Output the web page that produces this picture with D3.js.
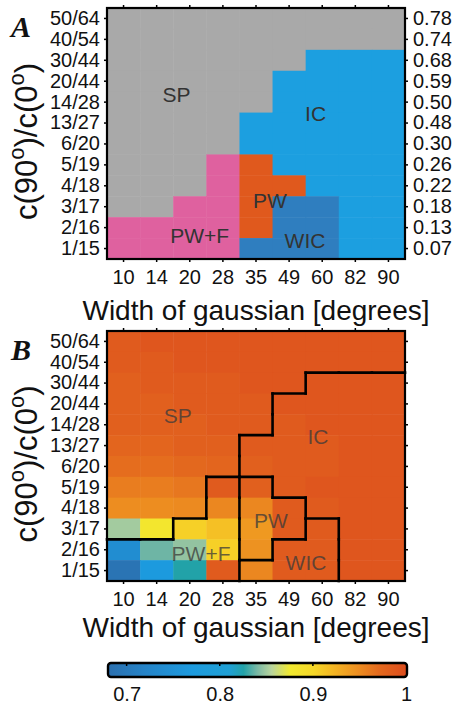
<!DOCTYPE html>
<html>
<head>
<meta charset="utf-8">
<script src="https://cdn.jsdelivr.net/npm/d3@7/dist/d3.min.js"></script>
<style>
body { margin: 0; background: #fff; }
text { font-family: "Liberation Sans", Arial, sans-serif; }
</style>
</head>
<body>
<div class="box"></div>
<script>
// columns = width of gaussian, rows = c(90)/c(0) (bottom to top)
const widths = ['10', '14', '20', '28', '35', '49', '60', '82', '90']
const ratios = ['1/15', '2/16', '3/17', '4/18', '5/19', '6/20', '13/27', '14/28', '20/44', '30/44', '40/54', '50/64']
const ratioValues = ['0.07', '0.13', '0.18', '0.22', '0.26', '0.30', '0.48', '0.50', '0.59', '0.68', '0.74', '0.78']

// regions, top row (50/64) first. S=SP F=PW+F P=PW I=IC W=WIC
const regionsA = [
  'SSSSSSSSS',
  'SSSSSSSSS',
  'SSSSSSIII',
  'SSSSSIIII',
  'SSSSSIIII',
  'SSSSIIIII',
  'SSSSIIIII',
  'SSSFPIIII',
  'SSSFPPIII',
  'SSFFPWWII',
  'FFFFPWWII',
  'FFFFWWWII'
]
const regionsB = [
  'SSSSSSSSS',
  'SSSSSSSSS',
  'SSSSSSIII',
  'SSSSSIIII',
  'SSSSSIIII',
  'SSSSIIIII',
  'SSSSIIIII',
  'SSSFPIIII',
  'SSSFPPIII',
  'SSFFPPWII',
  'FFFFPWWII',
  'FFFFWWWII'
]
// panel B values, top row first
const valuesB = [
  [.985, .99, .99, .99, .99, .99, .99, .99, .99],
  [.985, .985, .99, .99, .99, .99, .99, .99, .99],
  [.98, .985, .985, .985, .99, .99, .99, .99, .99],
  [.98, .98, .985, .985, .985, .99, .99, .99, .99],
  [.98, .98, .98, .985, .985, .985, .99, .99, .99],
  [.975, .975, .98, .98, .985, .985, .985, .99, .99],
  [.968, .968, .972, .975, .98, .985, .985, .99, .99],
  [.958, .958, .962, .985, .98, .985, .99, .99, .99],
  [.948, .948, .95, .952, .952, .985, .985, .99, .99],
  [.85, .88, .905, .915, .94, .985, .985, .99, .99],
  [.74, .838, .846, .905, .945, .985, .985, .99, .99],
  [.69, .77, .825, .985, .952, .985, .985, .99, .99]
]
const colorTicks = [0.7, 0.8, 0.9, 1]

const regionColors = {S: '#a9a9a9', F: '#df619f', P: '#e0591d', I: '#1c9fe0', W: '#2f7ebf'}
const colorStops = [0.68, 0.72, 0.77, 0.81, 0.825, 0.84, 0.855, 0.875, 0.9, 0.92, 0.95, 0.97, 1.0]
const colorRange = ['#2b6fae', '#2584c8', '#1c9ade', '#1fa0d4', '#22a2a8', '#7ab8a4', '#b8d49c',
  '#f2ea30', '#f6d828', '#f4b824', '#ec8a20', '#e46a1e', '#dc4c1e']
const color = d3.scaleLinear().domain(colorStops).range(colorRange).clamp(true)

// label positions in cell units (col from left, row from bottom)
const labelsA = [
  {t: 'SP', c: 2.1, r: 7.85}, {t: 'IC', c: 6.3, r: 6.98}, {t: 'PW', c: 4.92, r: 2.82},
  {t: 'WIC', c: 5.98, r: 0.91}, {t: 'PW+F', c: 2.8, r: 1.15}
]
const labelsB = [
  {t: 'SP', c: 2.14, r: 7.97}, {t: 'IC', c: 6.37, r: 6.96}, {t: 'PW', c: 4.95, r: 2.93},
  {t: 'WIC', c: 6.01, r: 0.91}, {t: 'PW+F', c: 2.84, r: 1.34}
]

const svg = d3.select('.box').append('svg')
  .attr('width', 457)
  .attr('height', 707)

const left = 107, right = 405

function panel(top, bottom, letter, titleY, fillFn, regions, labels, labelColor, rightLabels) {
  const g = svg.append('g')
  const x = d3.scaleBand().domain(widths).range([left, right])
  const y = d3.scaleBand().domain(ratios).range([bottom, top])
  const xc = d3.scaleLinear().domain([0, 9]).range([left, right])
  const yc = d3.scaleLinear().domain([0, 12]).range([bottom, top])

  const cells = []
  regions.forEach((row, i) => {
    const r = 11 - i
    row.split('').forEach((code, c) => cells.push({r, c, code, i}))
  })
  g.selectAll('rect.cell').data(cells).enter().append('rect')
    .attr('class', 'cell')
    .attr('x', d => x(widths[d.c]))
    .attr('y', d => y(ratios[d.r]))
    .attr('width', x.bandwidth() + 0.5)
    .attr('height', y.bandwidth() + 0.5)
    .attr('fill', fillFn)

  // region boundaries (panel B only)
  if (labelColor !== '#333') {
    const segs = []
    cells.forEach(d => {
      if (d.c < 8 && regions[d.i][d.c + 1] !== d.code)
        segs.push([xc(d.c + 1), yc(d.r), xc(d.c + 1), yc(d.r + 1)])
      if (d.r < 11 && regions[d.i - 1][d.c] !== d.code)
        segs.push([xc(d.c), yc(d.r + 1), xc(d.c + 1), yc(d.r + 1)])
    })
    g.selectAll('line.edge').data(segs).enter().append('line')
      .attr('x1', d => d[0]).attr('y1', d => d[1])
      .attr('x2', d => d[2]).attr('y2', d => d[3])
      .attr('stroke', '#000').attr('stroke-width', 2.6).attr('stroke-linecap', 'square')
  }

  g.selectAll('text.lab').data(labels).enter().append('text')
    .attr('x', d => xc(d.c)).attr('y', d => yc(d.r))
    .attr('dy', '0.36em')
    .attr('text-anchor', 'middle')
    .attr('font-size', 21)
    .attr('fill', labelColor)
    .attr('fill-opacity', labelColor === '#333' ? 1 : 0.75)
    .text(d => d.t)

  g.append('rect')
    .attr('x', left).attr('y', top)
    .attr('width', right - left).attr('height', bottom - top)
    .attr('fill', 'none').attr('stroke', '#000').attr('stroke-width', 2.2)

  const ax = g.append('g').attr('transform', `translate(0,${bottom})`)
    .call(d3.axisBottom(x).tickSize(3).tickPadding(8))
  g.append('g').attr('transform', `translate(0,${top})`)
    .call(d3.axisTop(x).tickSize(3).tickFormat(''))
  const ay = g.append('g').attr('transform', `translate(${left},0)`)
    .call(d3.axisLeft(y).tickSize(3).tickPadding(4))
  const ar = g.append('g').attr('transform', `translate(${right},0)`)
    .call(d3.axisRight(y).tickSize(3).tickPadding(5)
      .tickFormat((d, i) => rightLabels ? ratioValues[i] : ''))
  ;[ax, ay, ar].forEach(a => a.selectAll('text').attr('font-size', 20).attr('fill', '#111')
    .style('font-family', '"Liberation Sans", Arial, sans-serif'))
  g.selectAll('.domain').remove()
  g.selectAll('.tick line').attr('stroke-width', 1.5)

  // axis titles
  g.append('text')
    .attr('x', (left + right) / 2).attr('y', titleY)
    .attr('text-anchor', 'middle').attr('font-size', 28).attr('fill', '#111')
    .text('Width of gaussian [degrees]')

  const yt = g.append('text')
    .attr('transform', `translate(37,${(top + bottom) / 2 + 8}) rotate(-90)`)
    .attr('text-anchor', 'middle').attr('font-size', 31).attr('fill', '#111')
  yt.append('tspan').text('c(90')
  yt.append('tspan').attr('font-size', 22).attr('dy', -13).text('o')
  yt.append('tspan').attr('dy', 13).text(')/c(0')
  yt.append('tspan').attr('font-size', 22).attr('dy', -13).text('o')
  yt.append('tspan').attr('dy', 13).text(')')

  g.append('text')
    .attr('x', 11).attr('y', top + 29)
    .style('font-family', '"Liberation Serif", "Times New Roman", serif')
    .attr('font-weight', 'bold').attr('font-style', 'italic')
    .attr('font-size', 30).attr('fill', '#111')
    .text(letter)
}

panel(8, 259, 'A', 320, d => regionColors[d.code], regionsA, labelsA, '#333', true)
panel(331, 581, 'B', 637, d => color(valuesB[d.i][d.c]), regionsB, labelsB, '#3a3a3a', false)

// colour bar
const cx = d3.scaleLinear().domain([0.68, 1.0]).range([108, 406])
const grad = svg.append('defs').append('linearGradient').attr('id', 'cbar')
grad.selectAll('stop').data(colorStops).enter().append('stop')
  .attr('offset', d => (d - 0.68) / 0.32)
  .attr('stop-color', d => color(d))
svg.append('rect')
  .attr('x', cx(0.68)).attr('y', 663)
  .attr('width', cx(1.0) - cx(0.68) + 1).attr('height', 14)
  .attr('rx', 3)
  .attr('fill', 'url(#cbar)').attr('stroke', '#000').attr('stroke-width', 2.4)
const cb = svg.append('g').attr('transform', 'translate(0,677)')
  .call(d3.axisBottom(cx).tickValues(colorTicks).tickSize(0).tickPadding(10)
    .tickFormat(d => d === 1 ? '1' : d3.format('.1f')(d)))
cb.select('.domain').remove()
cb.selectAll('text').attr('font-size', 20).attr('fill', '#111')
  .style('font-family', '"Liberation Sans", Arial, sans-serif')
svg.selectAll('line.cbt').data(colorTicks.slice(0, 3)).enter().append('line')
  .attr('x1', d => cx(d)).attr('x2', d => cx(d))
  .attr('y1', 663).attr('y2', 666)
  .attr('stroke', '#000').attr('stroke-width', 1.5)
</script>
</body>
</html>
